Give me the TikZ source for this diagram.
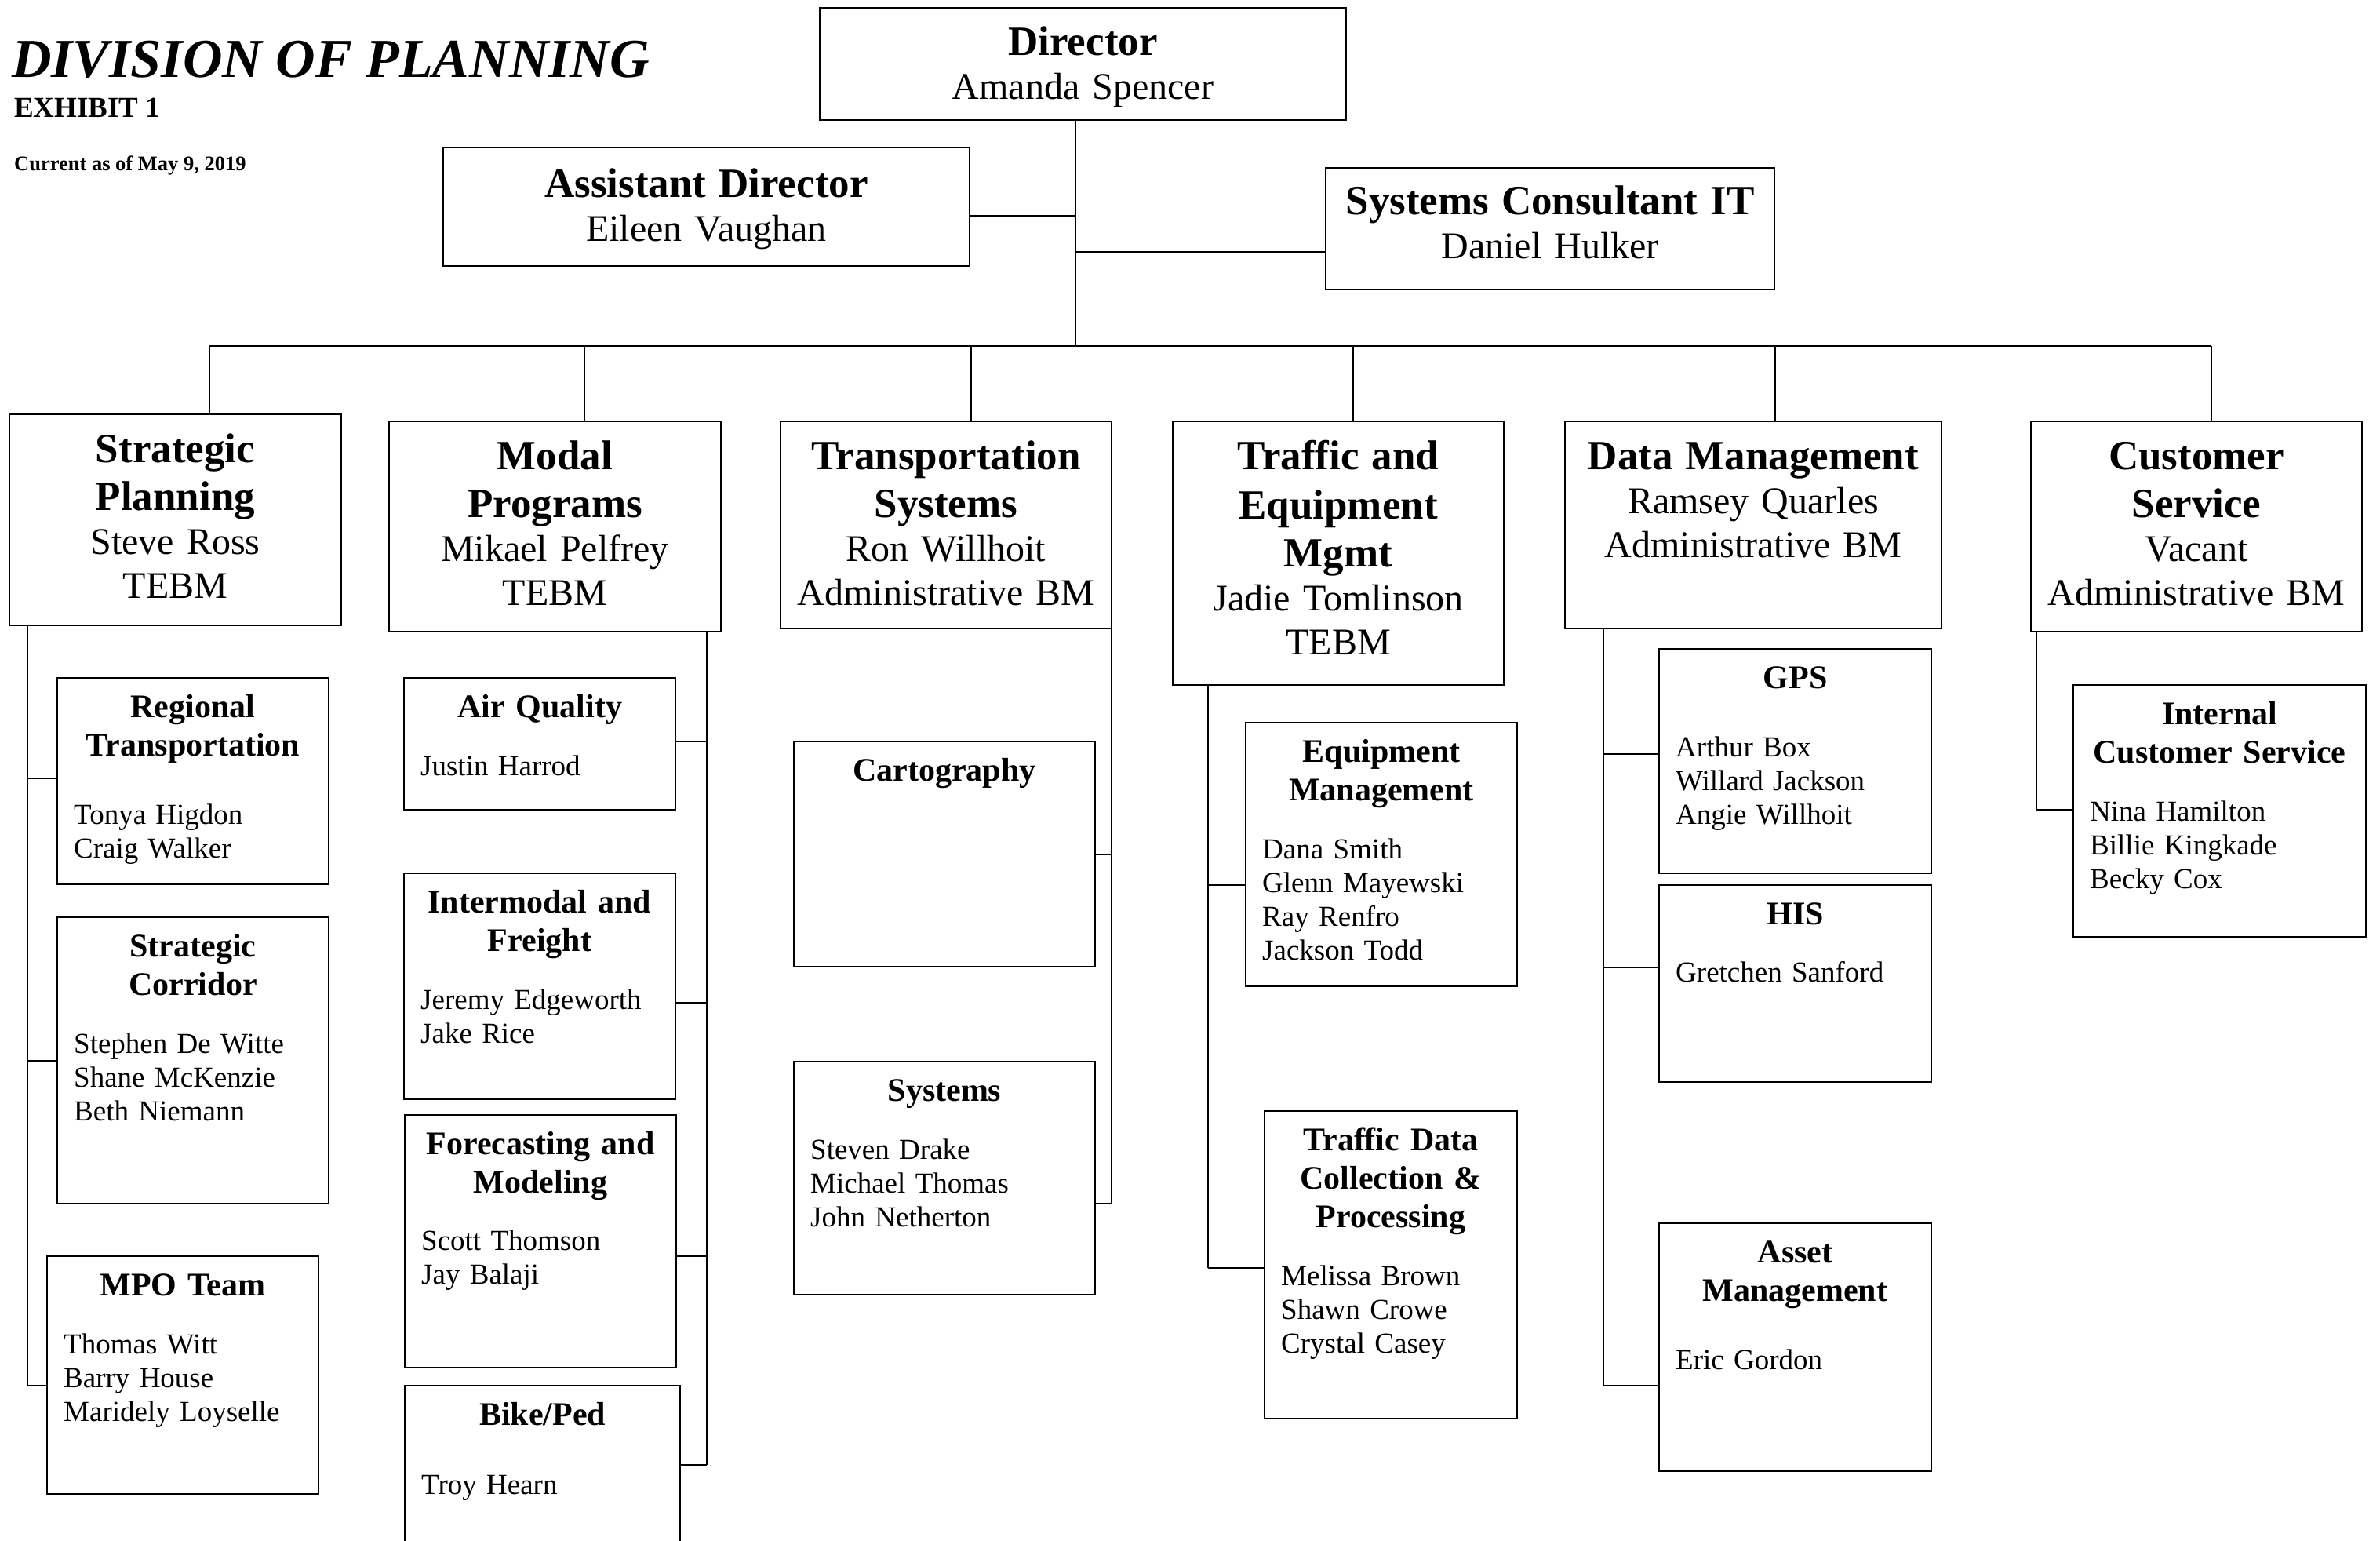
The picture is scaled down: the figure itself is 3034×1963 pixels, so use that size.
\documentclass[tikz,border=0pt]{standalone}
\usepackage{fontspec}
\setmainfont{Liberation Serif}
\tikzset{
  box/.style={draw, line width=2.4pt, inner sep=0pt, outer sep=0pt},
  conn/.style={line width=2pt},
  depttext/.style={anchor=base, inner sep=0pt, align=center, font=\fontsize{48}{56}\selectfont},
  subhead/.style={anchor=base, inner sep=0pt, align=center, font=\fontsize{42}{49}\selectfont\bfseries},
  subnames/.style={anchor=base west, inner sep=0pt, align=left, font=\fontsize{37}{43}\selectfont},
}
% #1 name, #2 x1, #3 y1, #4 x2, #5 y2
\newcommand\mkBox[5]{%
  \node[box, minimum width={(#4)-(#2)}, minimum height={(#5)-(#3)}] (#1) at ({((#2)+(#4))/2},{((#3)+(#5))/2}) {};}
% department: #6 bold lines, #7 name lines, #8 first baseline offset
\newcommand\mkDept[8]{%
  \mkBox{#1}{#2}{#3}{#4}{#5}%
  \node[depttext, text width={(#4)-(#2)-10}] (#1-t) at ({((#2)+(#4))/2},{(#3)+(#8)})
    {{\fontsize{53}{58}\selectfont\bfseries #6}\\#7};}
% sub box: #6 header, #7 names baseline, #8 names
\newcommand\mkSub[8]{%
  \mkBox{#1}{#2}{#3}{#4}{#5}%
  \node[subhead, text width={(#4)-(#2)-10}] (#1-h) at ({((#2)+(#4))/2},{(#3)+50}) {#6};
  \node[subnames, text width={(#4)-(#2)-30}] (#1-n) at ({(#2)+21},{#7}) {#8};}
\begin{document}
\begin{tikzpicture}[x=1pt, y=-1pt]
\useasboundingbox[fill=white] (0,0) rectangle (3034,1963);

% titles
\node[anchor=base west, inner sep=0pt, font=\fontsize{70}{80}\selectfont\bfseries\itshape] (title) at (15,98) {DIVISION OF PLANNING};
\node[anchor=base west, inner sep=0pt, font=\fontsize{37}{40}\selectfont\bfseries] (exh) at (18,149) {EXHIBIT 1};
\node[anchor=base west, inner sep=0pt, font=\fontsize{26.5}{30}\selectfont\bfseries] (cur) at (18,217) {Current as of May 9, 2019};

% top boxes
\mkDept{Dir}{1045}{10}{1716}{153}{Director}{Amanda Spencer}{60}
\mkDept{AD}{565}{188}{1236}{339}{Assistant Director}{Eileen Vaughan}{63}
\mkDept{SCIT}{1690}{214}{2262}{369}{Systems Consultant IT}{Daniel Hulker}{59}

% departments
\mkDept{SP}{12}{528}{435}{797}{Strategic\\[5pt]Planning}{Steve Ross\\TEBM}{61}
\mkDept{MP}{496}{537}{919}{805}{Modal\\[5pt]Programs}{Mikael Pelfrey\\TEBM}{61}
\mkDept{TS}{995}{537}{1417}{801}{Transportation\\[5pt]Systems}{Ron Willhoit\\Administrative BM}{61}
\mkDept{TEM}{1495}{537}{1917}{873}{Traffic and\\[5pt]Equipment\\[5pt]Mgmt}{Jadie Tomlinson\\TEBM}{61}
\mkDept{DM}{1995}{537}{2475}{801}{Data Management}{Ramsey Quarles\\Administrative BM}{61}
\mkDept{CS}{2589}{537}{3011}{805}{Customer\\[5pt]Service}{Vacant\\Administrative BM}{61}

% sub boxes
\mkSub{RT}{73}{864}{419}{1127}{Regional\\Transportation}{1050}{Tonya Higdon\\Craig Walker}
\mkSub{SCo}{73}{1169}{419}{1534}{Strategic\\Corridor}{1342}{Stephen De Witte\\Shane McKenzie\\Beth Niemann}
\mkSub{MPO}{60}{1601}{406}{1904}{MPO Team}{1725}{Thomas Witt\\Barry House\\Maridely Loyselle}
\mkSub{AQ}{515}{864}{861}{1032}{Air Quality}{988}{Justin Harrod}
\mkSub{IF}{515}{1113}{861}{1401}{Intermodal and\\Freight}{1286}{Jeremy Edgeworth\\Jake Rice}
\mkSub{FM}{516}{1421}{862}{1743}{Forecasting and\\Modeling}{1593}{Scott Thomson\\Jay Balaji}
\mkSub{BP}{516}{1766}{867}{2010}{Bike/Ped}{1904}{Troy Hearn}
\mkBox{CA}{1012}{945}{1396}{1232}
\node[subhead, text width=374] (CA-h) at (1204,995) {Cartography};
\mkSub{SY}{1012}{1353}{1396}{1650}{Systems}{1477}{Steven Drake\\Michael Thomas\\John Netherton}
\mkSub{EM}{1588}{921}{1934}{1257}{Equipment\\Management}{1094}{Dana Smith\\Glenn Mayewski\\Ray Renfro\\Jackson Todd}
\mkSub{TD}{1612}{1416}{1934}{1808}{Traffic Data\\Collection \&\\Processing}{1638}{Melissa Brown\\Shawn Crowe\\Crystal Casey}
\mkSub{GPS}{2115}{827}{2462}{1113}{GPS}{964}{Arthur Box\\Willard Jackson\\Angie Willhoit}
\mkSub{HIS}{2115}{1128}{2462}{1379}{HIS}{1251}{Gretchen Sanford}
\mkSub{AM}{2115}{1559}{2462}{1875}{Asset\\Management}{1745}{Eric Gordon}
\mkSub{ICS}{2643}{873}{3016}{1194}{Internal\\Customer Service}{1046}{Nina Hamilton\\Billie Kingkade\\Becky Cox}

% top connectors
\coordinate (trunkB) at (1371,441);
\coordinate (adJ) at (1371,275);
\coordinate (scJ) at (1371,321);
\draw[conn] (Dir.south -| trunkB) -- (trunkB);
\draw[conn] (AD.east |- adJ) -- (adJ);
\draw[conn] (scJ) -- (SCIT.west |- scJ);

% bus
\coordinate (b1) at (267,441);
\coordinate (b2) at (745,441);
\coordinate (b3) at (1238,441);
\coordinate (b4) at (1725,441);
\coordinate (b5) at (2263,441);
\coordinate (b6) at (2819,441);
\draw[conn] (b1) -- (b6);
\draw[conn] (b1) -- (SP.north -| b1);
\draw[conn] (b2) -- (MP.north -| b2);
\draw[conn] (b3) -- (TS.north -| b3);
\draw[conn] (b4) -- (TEM.north -| b4);
\draw[conn] (b5) -- (DM.north -| b5);
\draw[conn] (b6) -- (CS.north -| b6);

% Strategic Planning spine
\coordinate (sp1) at (35,992);
\coordinate (sp2) at (35,1352);
\coordinate (sp3) at (35,1766);
\draw[conn] (SP.south -| sp3) -- (sp3);
\draw[conn] (sp1) -- (RT.west |- sp1);
\draw[conn] (sp2) -- (SCo.west |- sp2);
\draw[conn] (sp3) -- (MPO.west |- sp3);

% Modal Programs spine
\coordinate (mp1) at (901,945);
\coordinate (mp2) at (901,1278);
\coordinate (mp3) at (901,1601);
\coordinate (mp4) at (901,1867);
\draw[conn] (MP.south -| mp4) -- (mp4);
\draw[conn] (mp1) -- (AQ.east |- mp1);
\draw[conn] (mp2) -- (IF.east |- mp2);
\draw[conn] (mp3) -- (FM.east |- mp3);
\draw[conn] (mp4) -- (BP.east |- mp4);

% Transportation Systems spine
\coordinate (ts1) at (1417,1089);
\coordinate (ts2) at (1417,1534);
\draw[conn] (TS.east) -- (ts2);
\draw[conn] (ts1) -- (CA.east |- ts1);
\draw[conn] (ts2) -- (SY.east |- ts2);

% Traffic and Equipment spine
\coordinate (te1) at (1540,1128);
\coordinate (te2) at (1540,1616);
\draw[conn] (TEM.south -| te2) -- (te2);
\draw[conn] (te1) -- (EM.west |- te1);
\draw[conn] (te2) -- (TD.west |- te2);

% Data Management spine
\coordinate (dm1) at (2044,961);
\coordinate (dm2) at (2044,1233);
\coordinate (dm3) at (2044,1766);
\draw[conn] (DM.south -| dm3) -- (dm3);
\draw[conn] (dm1) -- (GPS.west |- dm1);
\draw[conn] (dm2) -- (HIS.west |- dm2);
\draw[conn] (dm3) -- (AM.west |- dm3);

% Customer Service spine
\coordinate (cs1) at (2596,1032);
\draw[conn] (CS.south -| cs1) -- (cs1);
\draw[conn] (cs1) -- (ICS.west |- cs1);
\end{tikzpicture}
\end{document}
